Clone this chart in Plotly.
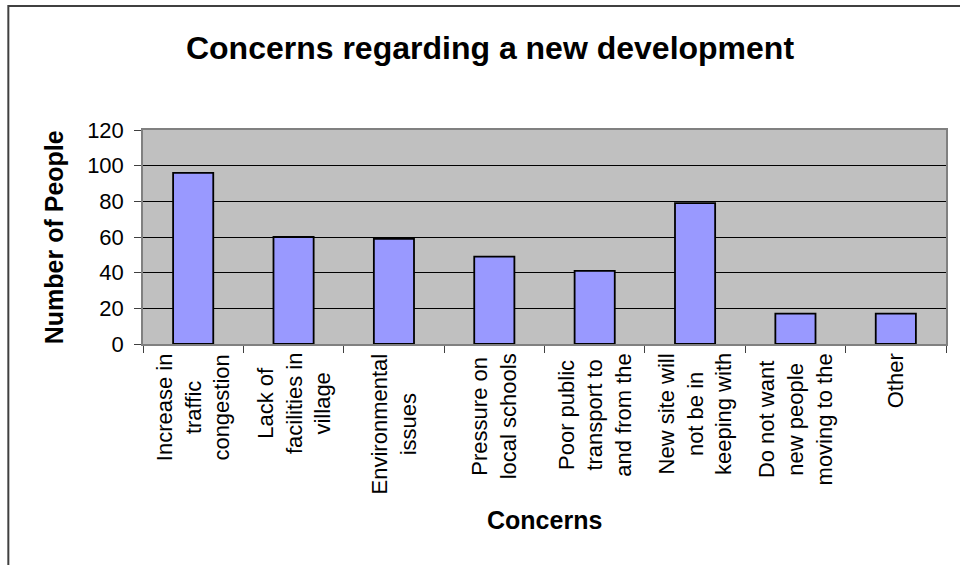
import plotly.graph_objects as go

categories = [
    "Increase in<br>traffic<br>congestion",
    "Lack of<br>facilities in<br>village",
    "Environmental<br>issues",
    "Pressure on<br>local schools",
    "Poor public<br>transport to<br>and from the",
    "New site will<br>not be in<br>keeping with",
    "Do not want<br>new people<br>moving to the",
    "Other",
]
cat_ids = ["c%d" % i for i in range(len(categories))]
values = [96, 60, 59, 49, 41, 79, 17, 17]
y_ticks = [0, 20, 40, 60, 80, 100, 120]

FONT = "Liberation Sans, Arial, sans-serif"

# pixel geometry helpers
W, H = 960, 565
L, R, T, B = 143, 12, 130, 221
PW, PH = W - L - R, H - T - B


def px_x(px):
    return (px - L) / PW


def px_y(py):
    return (H - B - py) / PH


fig = go.Figure()
fig.add_trace(go.Bar(
    x=cat_ids, y=values, width=0.4,
    marker=dict(color="#9999FF", line=dict(color="#000000", width=1.8)),
    hoverinfo="y",
))

annotations = []
for cid, lab in zip(cat_ids, categories):
    annotations.append(dict(
        x=cid, xref="x", y=px_y(351), yref="paper",
        text=lab, textangle=-90, showarrow=False,
        xanchor="center", yanchor="top", align="center",
        font=dict(family=FONT, size=22, color="#000000"),
    ))

annotations.append(dict(
    x=px_x(54), xref="paper", y=0.5, yref="paper",
    text="Number of People", textangle=-90, showarrow=False,
    xanchor="center", yanchor="middle",
    font=dict(family=FONT, size=25, color="#000000", weight="bold"),
))
annotations.append(dict(
    x=0.5, xref="paper", y=px_y(520), yref="paper",
    text="Concerns", showarrow=False,
    xanchor="center", yanchor="middle",
    font=dict(family=FONT, size=25, color="#000000", weight="bold"),
))

fig.update_layout(
    width=W, height=H,
    margin=dict(l=L, r=R, t=T, b=B, pad=0),
    paper_bgcolor="#FFFFFF",
    plot_bgcolor="#C0C0C0",
    showlegend=False,
    bargap=0.6,
    title=dict(
        text="Concerns regarding a new development",
        x=490 / W, xanchor="center", xref="container",
        y=1 - 48 / H, yanchor="middle", yref="container",
        font=dict(family=FONT, size=32, color="#000000", weight="bold"),
    ),
    annotations=annotations,
    shapes=[dict(
        type="rect", xref="paper", yref="paper",
        x0=px_x(8), x1=px_x(970), y0=px_y(6), y1=px_y(580),
        line=dict(color="#404040", width=2), fillcolor="rgba(0,0,0,0)",
        layer="below",
    )],
)

fig.update_xaxes(
    type="category", showticklabels=False,
    ticks="outside", ticklen=7, tickcolor="#404040", tickwidth=1,
    tickson="boundaries",
    showline=True, linecolor="#808080", linewidth=1.5, mirror=True,
    showgrid=False, zeroline=False,
    range=[-0.5, len(categories) - 0.5],
)
fig.update_yaxes(
    range=[0, 120], tickvals=y_ticks, ticktext=[str(v) for v in y_ticks],
    ticks="outside", ticklen=7, tickcolor="#404040", tickwidth=1,
    ticklabelstandoff=6,
    tickfont=dict(family=FONT, size=22, color="#000000"),
    showline=True, linecolor="#808080", linewidth=1.5, mirror=True,
    showgrid=True, gridcolor="#000000", gridwidth=1,
    zeroline=False,
)

fig.write_html("out.html")
